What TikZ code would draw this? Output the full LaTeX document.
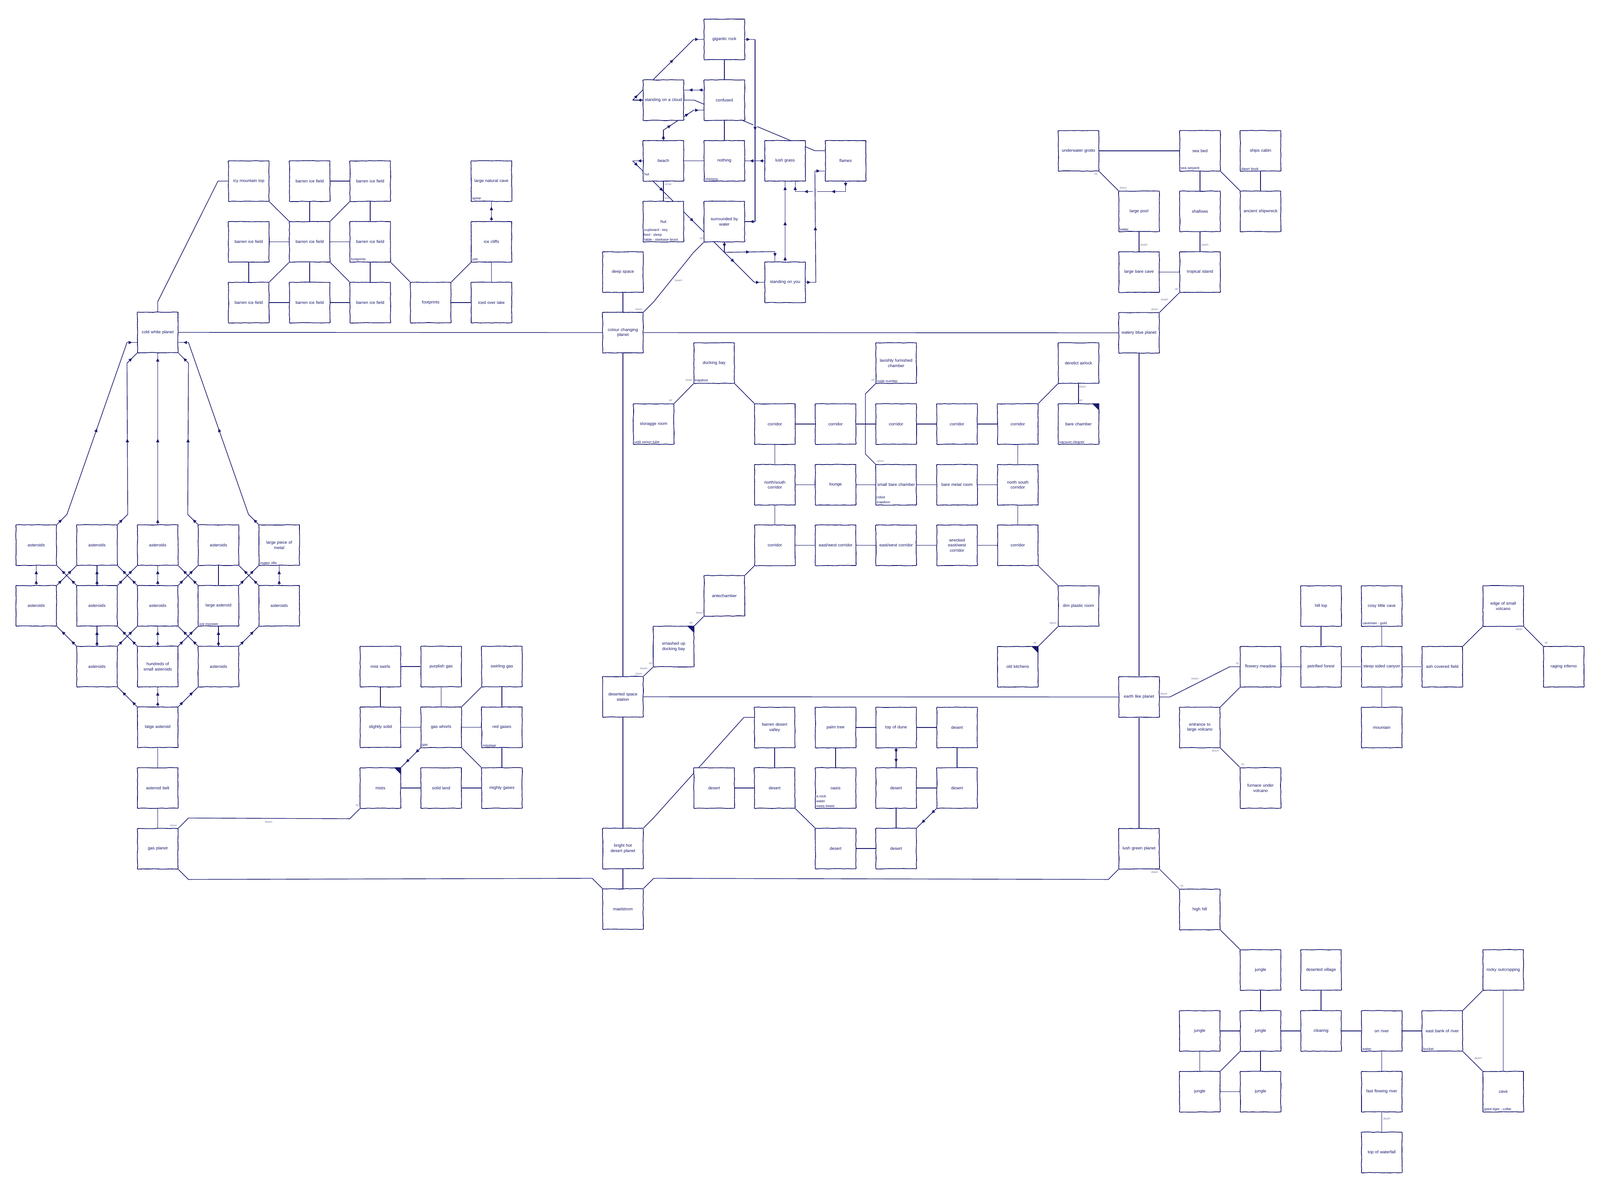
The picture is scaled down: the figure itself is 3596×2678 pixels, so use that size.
\documentclass[tikz,border=0pt]{standalone}
\usepackage{fontspec}
\setmainfont{Liberation Sans}
\usetikzlibrary{arrows.meta,decorations.markings,decorations.pathmorphing,calc}
\definecolor{nv}{RGB}{24,24,110}
\definecolor{lb}{RGB}{125,125,160}
\pgfdeclarelayer{back}
\pgfdeclarelayer{bg}
\pgfsetlayers{back,bg,main}
\tikzset{
  atip/.tip={Triangle[length=8pt,width=7pt]},
  room/.style={draw=nv, line width=1.6pt, fill=white, minimum width=91pt, minimum height=91pt,
    inner sep=1pt, text width=88pt, align=center, text=nv, font=\fontsize{9.5}{11.5}\selectfont,
    decorate, decoration={random steps,segment length=9pt,amplitude=0.55pt}, rounded corners=1.2pt},
  obj/.style={anchor=south west, inner sep=0pt, text=nv, font=\fontsize{8}{11}\selectfont, align=left},
  elab/.style={inner sep=0pt, text=lb, font=\fontsize{6.5}{7}\selectfont},
  conn/.style={draw=nv, line width=1.4pt},
  ar/.style={conn, postaction={decorate, decoration={markings, mark=at position 0.5 with {\arrow{atip}}}}},
  ar2/.style={conn, postaction={decorate, decoration={markings, mark=at position 0.25 with {\arrow{atip}}, mark=at position 0.75 with {\arrow{atip}}}}},
  arm/.style={conn, postaction={decorate, decoration={markings, #1}}},
  halo/.style={preaction={draw=white, line width=9pt}},
}
\newcommand{\objtxt}[3]{\node[obj] (#1) at ([xshift=3pt,yshift=2.5pt]#2.south west) {#3};}
\newcommand{\darkc}[1]{\fill[nv] (#1.north east) -- ++(-16,0) -- ++(16,16) -- cycle;}
\newcommand{\elbl}[4]{\node[elab] (#1) at (#2,#3) {#4};}
\newcommand{\owthree}[4]{\draw[ar] #1 -- #2; \draw[ar] #2 -- #3; \draw[ar] #3 -- #4;}
\begin{document}
\begin{tikzpicture}[x=1pt,y=-1pt]
\begin{pgfonlayer}{back}
\fill[white] (0,0) rectangle (3596,2678);
\end{pgfonlayer}
\useasboundingbox (0,0) rectangle (3596,2678);

% ---------------- ice
\node[room] (icy) at (559,407) {icy mountain top};
\node[room] (bi2) at (696,407) {barren ice field};
\node[room] (bi3) at (832,407) {barren ice field};
\node[room] (ncave) at (1104.5,407) {large natural cave};
\node[room] (bil) at (559,543.5) {barren ice field};
\node[room] (bic) at (696,543.5) {barren ice field};
\node[room] (bir) at (832,543.5) {barren ice field};
\node[room] (cliffs) at (1104.5,543.5) {ice cliffs};
\node[room] (bbl) at (559,680) {barren ice field};
\node[room] (bbm) at (696,680) {barren ice field};
\node[room] (bbr) at (832,680) {barren ice field};
\node[room] (fpr) at (968,680) {footprints};
\node[room] (lake) at (1104.5,680) {iced over lake};
\objtxt{o1}{ncave}{spear}
\objtxt{o2}{bir}{footprints}
\objtxt{o3}{cliffs}{yeti}

% ---------------- asteroids
\node[room] (cwp) at (354.5,747) {cold white planet};
\node[room] (a10) at (81.5,1225) {asteroids};
\node[room] (a11) at (218,1225) {asteroids};
\node[room] (a12) at (354.5,1225) {asteroids};
\node[room] (a13) at (491,1225) {asteroids};
\node[room] (m14) at (627.5,1225) {large piece of\\metal};
\node[room] (a20) at (81.5,1361.5) {asteroids};
\node[room] (a21) at (218,1361.5) {asteroids};
\node[room] (a22) at (354.5,1361.5) {asteroids};
\node[room] (la23) at (491,1361.5) {large asteroid};
\node[room] (a24) at (627.5,1361.5) {asteroids};
\node[room] (a31) at (218,1498) {asteroids};
\node[room] (h32) at (354.5,1498) {hundreds of\\small asteroids};
\node[room] (a33) at (491,1498) {asteroids};
\node[room] (lat) at (354.5,1634.5) {latge asteroid};
\node[room] (belt) at (354.5,1771) {asteroid belt};
\node[room] (gasp) at (354.5,1907.5) {gas planet};
\objtxt{o4}{m14}{matter rifle}
\objtxt{o5}{la23}{ore monster}

% ---------------- gas
\node[room] (ms) at (855,1498) {mist swirls};
\node[room] (pg) at (991.5,1498) {purplish gas};
\node[room] (sg) at (1128,1498) {swirling gas};
\node[room] (ss) at (855,1634.5) {slightly solid};
\node[room] (gw) at (991.5,1634.5) {gas whorls};
\node[room] (rg) at (1128,1634.5) {red gases};
\node[room] (mists) at (855,1771) {mists};
\node[room] (sl) at (991.5,1771) {solid land};
\node[room] (mg) at (1128,1771) {mighty gases};
\objtxt{o6}{gw}{gas}
\objtxt{o7}{rg}{misstaar}
\darkc{mists}

% ---------------- cloud area
\node[room] (gr) at (1628,88.5) {gigantic rock};
\node[room] (conf) at (1628,225) {confused};
\node[room] (cloud) at (1491,225) {standing on a cloud};
\node[room] (beach) at (1491,361.5) {beach};
\node[room] (noth) at (1628,361.5) {nothing};
\node[room] (lush) at (1764.5,361.5) {lush grass};
\node[room] (flames) at (1900.5,361.5) {flames};
\node[room] (hut) at (1491,498) {hut};
\node[room] (water) at (1628,498) {surrounded by\\water};
\node[room] (you) at (1764.5,634.5) {standing on you};
\node[room] (deep) at (1400,611.5) {deep space};
\node[obj] (o8) at ([xshift=3pt,yshift=13pt]beach.south west) {hut};
\objtxt{o9}{noth}{chimera}
\objtxt{o10}{hut}{cupboard - key\\bed - sleep\\table - starbase broot}

% ---------------- planets
\node[room] (ccp) at (1400,747.5) {colour changing\\planet};
\node[room] (station) at (1400,1566) {deserted space\\station};
\node[room] (bright) at (1400,1907) {bright hot\\desert planet};
\node[room] (mael) at (1400,2043) {maelstrom};
\node[room] (wbp) at (2560,748) {watery blue planet};
\node[room] (earth) at (2560,1566.5) {earth like planet};
\node[room] (lgp) at (2560,1907.5) {lush green planet};

% ---------------- space ship
\node[room] (dock) at (1605,816) {docking bay};
\node[room] (stor) at (1469,953) {storagge room};
\node[room] (lav) at (2014,816) {lavishly furnished\\chamber};
\node[room] (der) at (2424,816) {derelict airlock};
\node[room] (c1a) at (1741.5,953) {corridor};
\node[room] (c1b) at (1878,953) {corridor};
\node[room] (c1c) at (2014,953) {corridor};
\node[room] (c1d) at (2151,953) {corridor};
\node[room] (c1e) at (2287.5,953) {corridor};
\node[room] (bch) at (2424,953) {bare chamber};
\node[room] (ns1) at (1741.5,1089.5) {north/south\\corridor};
\node[room] (lng) at (1878,1089.5) {lounge};
\node[room] (sbc) at (2014,1089.5) {small bare chamber};
\node[room] (bmr) at (2151,1089.5) {bare metal room};
\node[room] (ns2) at (2287.5,1089.5) {north south\\corridor};
\node[room] (c3a) at (1741.5,1225.5) {corridor};
\node[room] (ew1) at (1878,1225.5) {east/west corridor};
\node[room] (ew2) at (2014,1225.5) {east/west corridor};
\node[room] (wew) at (2151,1225.5) {wrecked\\east/west\\corridor};
\node[room] (c3e) at (2287.5,1225.5) {corridor};
\node[room] (ante) at (1628,1339) {antechamber};
\node[room] (smash) at (1514,1453) {smashed up\\docking bay};
\node[room] (dim) at (2424,1362) {dim plastic room};
\node[room] (kit) at (2287.5,1498.5) {old kitchens};
\objtxt{o11}{dock}{trapdoor}
\objtxt{o12}{stor}{unlit xenon tube}
\objtxt{o13}{lav}{code number}
\objtxt{o14}{sbc}{robot\\trapdoor}
\objtxt{o15}{bch}{vacuum cleaner}
\darkc{bch}
\darkc{smash}
\darkc{kit}

% ---------------- desert
\node[room] (valley) at (1741,1635) {barren desert\\valley};
\node[room] (palm) at (1878,1635) {palm tree};
\node[room] (dune) at (2014,1635) {top of dune};
\node[room] (dtr) at (2151,1635) {desert};
\node[room] (d1) at (1605,1771) {desert};
\node[room] (d2) at (1741,1771) {desert};
\node[room] (oasis) at (1878,1771) {oasis};
\node[room] (d4) at (2014,1771) {desert};
\node[room] (d5) at (2151,1771) {desert};
\node[room] (d6) at (1878,1907) {desert};
\node[room] (d7) at (2014,1907) {desert};
\objtxt{o16}{oasis}{a rock\\water\\oasis beast}

% ---------------- water world
\node[room] (grotto) at (2424,339) {underwater grotto};
\node[room] (seabed) at (2697,339) {sea bed};
\node[room] (cabin) at (2833,339) {ships cabin};
\node[room] (pool) at (2560,475) {large pool};
\node[room] (shallows) at (2697,475) {shallows};
\node[room] (wreck) at (2833,475) {ancient shipwreck};
\node[room] (barecave) at (2560,611.5) {large bare cave};
\node[room] (tropic) at (2697,611.5) {tropical island};
\objtxt{o17}{seabed}{sea serpent}
\objtxt{o18}{cabin}{dawn book}
\objtxt{o19}{pool}{water}

% ---------------- earth
\node[room] (meadow) at (2833,1498.5) {flowery meadow};
\node[room] (forest) at (2969,1498.5) {petrified forest};
\node[room] (canyon) at (3105.5,1498.5) {steep sided canyon};
\node[room] (ash) at (3241.5,1498.5) {ash covered field};
\node[room] (inferno) at (3514.5,1498.5) {raging inferno};
\node[room] (volc) at (3378.5,1362) {edge of small\\volcano};
\node[room] (hill) at (2969,1362) {hill top};
\node[room] (cosy) at (3105.5,1362) {cosy little cave};
\node[room] (mount) at (3105.5,1635) {mountain};
\node[room] (entr) at (2696.5,1635) {entrance to\\large volcano};
\node[room] (furn) at (2833,1771) {furnace under\\volcano};
\objtxt{o20}{cosy}{caveman - gold}

% ---------------- jungle
\node[room] (hhill) at (2696.5,2044) {high hill};
\node[room] (jt) at (2833,2180) {jungle};
\node[room] (village) at (2969,2180) {deserted village};
\node[room] (rocky) at (3378.5,2180) {rocky outcropping};
\node[room] (jl) at (2696.5,2317) {jungle};
\node[room] (jc) at (2833,2317) {jungle};
\node[room] (clear) at (2969,2317) {clearing};
\node[room] (river) at (3105.5,2317) {on river};
\node[room] (bank) at (3241.5,2317) {east bank of river};
\node[room] (jbl) at (2696.5,2453.5) {jungle};
\node[room] (jbc) at (2833,2453.5) {jungle};
\node[room] (fast) at (3105.5,2453.5) {fast flowing river};
\node[room] (jcave) at (3378.5,2453.5) {cave};
\node[room] (fall) at (3105.5,2590) {top of waterfall};
\objtxt{o21}{river}{water}
\objtxt{o22}{bank}{bucket}
\objtxt{o23}{jcave}{giant tiger - collar}

% ---------------- edge labels
\elbl{l1}{390}{1855}{down}
\elbl{l2}{604}{1847}{beam}
\elbl{l3}{803}{1810}{up}
\elbl{l4}{1436}{695}{down}
\elbl{l5}{1525}{630}{beam}
\elbl{l6}{1576}{536.5}{up}
\elbl{l7}{1436}{1514}{down}
\elbl{l8}{1447}{1502.5}{beam}
\elbl{l9}{1462}{1491}{up}
\elbl{l10}{1553}{1400.5}{up}
\elbl{l11}{1572}{1377.5}{down}
\elbl{l12}{1549}{854}{down}
\elbl{l13}{1507}{900}{up}
\elbl{l14}{1962}{854}{up}
\elbl{l15}{1979}{1036}{down}
\elbl{l16}{2433}{869}{down}
\elbl{l17}{2429}{900.5}{up}
\elbl{l18}{2367}{1400}{down}
\elbl{l19}{2326}{1445.4}{up}
\elbl{l20}{2595}{695}{down}
\elbl{l21}{2617.5}{672.7}{beam}
\elbl{l22}{2644}{650}{up}
\elbl{l23}{2463}{391.7}{up}
\elbl{l24}{2524.5}{422}{down}
\elbl{l25}{2571}{550.6}{death}
\elbl{l26}{2708}{550.6}{death}
\elbl{l27}{2615.6}{1558.8}{down}
\elbl{l28}{2686}{1525.3}{beam}
\elbl{l29}{2781}{1491.7}{up}
\elbl{l30}{3414}{1414.6}{down}
\elbl{l31}{3475}{1445.6}{up}
\elbl{l32}{2731.6}{1687.3}{down}
\elbl{l33}{2793}{1718.4}{up}
\elbl{l34}{2595}{1960.4}{down}
\elbl{l35}{2656}{1991.5}{up}
\elbl{l36}{3321.7}{2377.8}{death}
\elbl{l37}{3116.7}{2514}{death}
\elbl{l38}{1502}{414.3}{enter}
\elbl{l39}{1501.5}{445.3}{leave}

% ================= connectors
\begin{pgfonlayer}{bg}
% --- cloud area, drawn first (crossed lines)
\draw[conn] (cloud.east) -- ++(22.75,0) -- ($(flames.west)+(-22.75,-22.75)$) -- ([yshift=22.75pt]flames.west);
\draw[ar] (flames.south) -- ($(flames.south)+(0,22.75)$);
\draw[arm={mark=at position 0.28 with {\arrow{atip}}, mark=at position 0.82 with {\arrow{atip}}}] ($(flames.south)+(0,22.75)$) -- ($(lush.south)+(22.75,22.75)$);
\draw[ar] ($(lush.south)+(22.75,22.75)$) -- ([xshift=22.75pt]lush.south);
% gigantic rock -> surrounded by water
\draw[ar,halo] ($(gr.east)+(22.75,0)$) -- ($(water.east)+(22.75,0)$);
\draw[ar] (gr.east) -- ($(gr.east)+(22.75,0)$);
\draw[ar] ($(water.east)+(22.75,0)$) -- (water.east);
% standing on you -> flames
\draw[ar,halo] ($(you.east)+(22.75,0)$) -- ($(flames.west)+(-22.75,22.75)$);
\draw[ar] (you.east) -- ($(you.east)+(22.75,0)$);
\draw[ar] ($(flames.west)+(-22.75,22.75)$) -- ([yshift=-22.75pt]flames.west);
% lush grass -> nothing
\draw[ar2] (lush.west) -- (noth.east);
% standing on you -> lush grass
\owthree{(you.north)}{($(you.north)+(0,-22.75)$)}{($(lush.south)+(0,22.75)$)}{(lush.south)}
% surrounded by water -> standing on you
\owthree{(water.south)}{($(water.south)+(0,22.75)$)}{($(you.north)+(-22.75,-22.75)$)}{([xshift=-22.75pt]you.north)}
% cloud -> gigantic rock
\draw[ar] (cloud.west) -- ($(cloud.west)+(-22.75,0)$);
\draw[arm={mark=at position 0.083 with {\arrow{atip}}, mark=at position 0.667 with {\arrow{atip}}}] ($(cloud.west)+(-22.75,0)$) -- ($(gr.west)+(-22.75,0)$);
\draw[ar] ($(gr.west)+(-22.75,0)$) -- (gr.west);
% beach -> standing on you
\draw[ar] (beach.west) -- ($(beach.west)+(-22.75,0)$);
\draw[arm={mark=at position 0.042 with {\arrow{atip}}, mark=at position 0.249 with {\arrow{atip}}, mark=at position 0.4995 with {\arrow{atip}}, mark=at position 0.834 with {\arrow{atip}}}] ($(beach.west)+(-22.75,0)$) -- ($(you.west)+(-22.75,0)$);
\draw[ar] ($(you.west)+(-22.75,0)$) -- (you.west);
% beach -> confused
\draw[ar] (beach.north) -- ($(beach.north)+(0,-22.75)$);
\draw[arm={mark=at position 0.25 with {\arrow{atip}}, mark=at position 0.831 with {\arrow{atip}}}] ($(beach.north)+(0,-22.75)$) -- ($(conf.west)+(-22.75,22.75)$);
\draw[ar] ($(conf.west)+(-22.75,22.75)$) -- ([yshift=-22.75pt]conf.west);
% confused -> cloud
\draw[ar2] ([yshift=22.75pt]conf.west) -- ([yshift=22.75pt]cloud.east);
% plain
\draw[conn] (gr.south) -- (conf.north);
\draw[conn] (conf.south) -- (noth.north);
\draw[conn] (beach.east) -- (noth.west);
\draw[conn] (beach.south) -- (hut.north);
\draw[conn] (deep.south) -- (ccp.north);
\draw[conn] (ccp.north east) -- ++(22.75,-22.75) -- ($(water.south west)+(-22.75,22.75)$) -- (water.south west);

% --- ice
\draw[conn] (cwp.north) -- ++(0,-22.75) -- ($(icy.west)+(-22.75,0)$) -- (icy.west);
\draw[conn] (icy.south east) -- (bic.north west);
\draw[conn] (bi2.south) -- (bic.north);
\draw[conn] (bi3.south west) -- (bic.north east);
\draw[conn] (bi2.east) -- (bi3.west);
\draw[conn] (bi3.south) -- (bir.north);
\draw[conn] (bil.east) -- (bic.west);
\draw[conn] (bic.east) -- (bir.west);
\draw[conn] (bil.south) -- (bbl.north);
\draw[conn] (bic.south west) -- (bbl.north east);
\draw[conn] (bic.south) -- (bbm.north);
\draw[conn] (bic.south east) -- (bbr.north west);
\draw[conn] (bir.south) -- (bbr.north);
\draw[conn] (bbl.east) -- (bbm.west);
\draw[conn] (bbm.east) -- (bbr.west);
\draw[conn] (bir.south east) -- (fpr.north west);
\draw[conn] (fpr.north east) -- (cliffs.south west);
\draw[conn] (fpr.east) -- (lake.west);
\draw[conn] (lake.north) -- (cliffs.south);
\draw[ar2] (cliffs.north) -- (ncave.south);

% --- asteroids
\owthree{(a10.north east)}{($(a10.north east)+(22.75,-22.75)$)}{($(cwp.west)+(-22.75,22.75)$)}{([yshift=-22.75pt]cwp.west)}
\owthree{(a11.north east)}{($(a11.north east)+(22.75,-22.75)$)}{($(cwp.south west)+(-22.75,22.75)$)}{(cwp.south west)}
\owthree{(a12.north)}{($(a12.north)+(0,-22.75)$)}{($(cwp.south)+(0,22.75)$)}{(cwp.south)}
\owthree{(a13.north west)}{($(a13.north west)+(-22.75,-22.75)$)}{($(cwp.south east)+(22.75,22.75)$)}{(cwp.south east)}
\owthree{(m14.north west)}{($(m14.north west)+(-22.75,-22.75)$)}{($(cwp.east)+(22.75,22.75)$)}{([yshift=-22.75pt]cwp.east)}
\draw[ar2] (a20.north) -- (a10.south);
\draw[ar2] (a20.north east) -- (a11.south west);
\draw[ar2] (a21.north west) -- (a10.south east);
\draw[ar2] (a21.north) -- (a11.south);
\draw[ar2] (a21.north east) -- (a12.south west);
\draw[ar2] (a22.north west) -- (a11.south east);
\draw[ar2] (a22.north) -- (a12.south);
\draw[ar2] (a22.north east) -- (a13.south west);
\draw[ar2] (la23.north west) -- (a12.south east);
\draw[conn] (la23.north) -- (a13.south);
\draw[ar2] (la23.north east) -- (m14.south west);
\draw[ar2] (a24.north west) -- (a13.south east);
\draw[ar2] (a24.north) -- (m14.south);
\draw[ar2] (a31.north west) -- (a20.south east);
\draw[ar2] (a31.north) -- (a21.south);
\draw[ar2] (a31.north east) -- (a22.south west);
\draw[ar2] (h32.north west) -- (a21.south east);
\draw[ar2] (h32.north) -- (a22.south);
\draw[ar2] (h32.north east) -- (la23.south west);
\draw[ar2] (a33.north west) -- (a22.south east);
\draw[ar2] (a33.north) -- (la23.south);
\draw[ar2] (a33.north east) -- (a24.south west);
\draw[ar2] (lat.north west) -- (a31.south east);
\draw[ar2] (lat.north) -- (h32.south);
\draw[ar2] (lat.north east) -- (a33.south west);
\draw[conn] (lat.south) -- (belt.north);
\draw[conn] (belt.south) -- (gasp.north);

% --- gas
\draw[conn] (gasp.north east) -- ++(22.75,-22.75) -- ($(mists.south west)+(-22.75,22.75)$) -- (mists.south west);
\draw[conn] (gasp.south east) -- ++(22.75,22.75) -- ($(mael.north west)+(-22.75,-22.75)$) -- (mael.north west);
\draw[conn] (ms.east) -- (pg.west);
\draw[conn] (ms.south) -- (ss.north);
\draw[conn] (pg.south) -- (gw.north);
\draw[conn] (sg.south west) -- (gw.north east);
\draw[conn] (sg.south) -- (rg.north);
\draw[conn] (ss.east) -- (gw.west);
\draw[conn] (gw.east) -- (rg.west);
\draw[ar2] (gw.south west) -- (mists.north east);
\draw[conn] (gw.south east) -- (mg.north west);
\draw[conn] (rg.south) -- (mg.north);
\draw[conn] (mists.east) -- (sl.west);
\draw[conn] (sl.east) -- (mg.west);

% --- planets trunk
\draw[conn] (cwp.east) -- (ccp.west);
\draw[conn] (ccp.east) -- (wbp.west);
\draw[conn] (ccp.south) -- (station.north);
\draw[conn] (station.east) -- (earth.west);
\draw[conn] (station.south) -- (bright.north);
\draw[conn] (bright.south) -- (mael.north);
\draw[conn] (wbp.south) -- (earth.north);
\draw[conn] (earth.south) -- (lgp.north);
\draw[conn] (mael.north east) -- ++(22.75,-22.75) -- ($(lgp.south west)+(-22.75,22.75)$) -- (lgp.south west);

% --- ship
\draw[conn] (station.north east) -- (smash.south west);
\draw[conn] (smash.north east) -- (ante.south west);
\draw[conn] (ante.north east) -- (c3a.south west);
\draw[conn] (c3a.north) -- (ns1.south);
\draw[conn] (ns1.north) -- (c1a.south);
\draw[conn] (c1a.north west) -- (dock.south east);
\draw[conn] (dock.south west) -- (stor.north east);
\draw[conn] (c1a.east) -- (c1b.west);
\draw[conn] (c1b.east) -- (c1c.west);
\draw[conn] (c1c.east) -- (c1d.west);
\draw[conn] (c1d.east) -- (c1e.west);
\draw[conn] (c1e.north east) -- (der.south west);
\draw[conn] (der.south) -- (bch.north);
\draw[conn] (lav.south west) -- ++(-22.75,22.75) -- ($(sbc.north west)+(-22.75,-22.75)$) -- (sbc.north west);
\draw[conn] (ns1.east) -- (lng.west);
\draw[conn] (lng.east) -- (sbc.west);
\draw[conn] (sbc.east) -- (bmr.west);
\draw[conn] (bmr.east) -- (ns2.west);
\draw[conn] (c1e.south) -- (ns2.north);
\draw[conn] (ns2.south) -- (c3e.north);
\draw[conn] (c3a.east) -- (ew1.west);
\draw[conn] (ew1.east) -- (ew2.west);
\draw[conn] (ew2.east) -- (wew.west);
\draw[conn] (wew.east) -- (c3e.west);
\draw[conn] (c3e.south east) -- (dim.north west);
\draw[conn] (dim.south west) -- (kit.north east);

% --- desert
\draw[conn] (bright.north east) -- ++(22.75,-22.75) -- ($(valley.west)+(-22.75,-22.75)$) -- ([yshift=22.75pt]valley.west);
\draw[conn] (valley.south) -- (d2.north);
\draw[conn] (d1.east) -- (d2.west);
\draw[conn] (d2.south east) -- (d6.north west);
\draw[conn] (palm.south) -- (oasis.north);
\draw[conn] (palm.east) -- (dune.west);
\draw[conn] (dune.east) -- (dtr.west);
\draw[ar2] (dune.south) -- (d4.north);
\draw[conn] (dtr.south) -- (d5.north);
\draw[conn] (d4.east) -- (d5.west);
\draw[conn] (d4.south) -- (d7.north);
\draw[ar2] (d5.south west) -- (d7.north east);
\draw[conn] (d6.east) -- (d7.west);

% --- water world
\draw[conn] (wbp.north east) -- (tropic.south west);
\draw[conn] (grotto.east) -- (seabed.west);
\draw[conn] (grotto.south east) -- (pool.north west);
\draw[conn] (seabed.south) -- (shallows.north);
\draw[conn] (seabed.south east) -- (wreck.north west);
\draw[conn] (cabin.south) -- (wreck.north);
\draw[conn] (pool.south) -- (barecave.north);
\draw[conn] (shallows.south) -- (tropic.north);
\draw[conn] (barecave.east) -- (tropic.west);

% --- earth
\draw[conn] (earth.east) -- ++(22.75,0) -- ($(meadow.west)+(-22.75,0)$) -- (meadow.west);
\draw[conn] (meadow.east) -- (forest.west);
\draw[conn] (forest.east) -- (canyon.west);
\draw[conn] (canyon.east) -- (ash.west);
\draw[conn] (hill.south) -- (forest.north);
\draw[conn] (cosy.south) -- (canyon.north);
\draw[conn] (canyon.south) -- (mount.north);
\draw[conn] (ash.north east) -- (volc.south west);
\draw[conn] (volc.south east) -- (inferno.north west);
\draw[conn] (meadow.south west) -- (entr.north east);
\draw[conn] (entr.south east) -- (furn.north west);

% --- jungle
\draw[conn] (lgp.south east) -- (hhill.north west);
\draw[conn] (hhill.south east) -- (jt.north west);
\draw[conn] (jt.south) -- (jc.north);
\draw[conn] (jl.east) -- (jc.west);
\draw[conn] (jc.east) -- (clear.west);
\draw[conn] (village.south) -- (clear.north);
\draw[conn] (clear.east) -- (river.west);
\draw[conn] (river.east) -- (bank.west);
\draw[conn] (bank.north east) -- (rocky.south west);
\draw[conn] (rocky.south) -- (jcave.north);
\draw[conn] (bank.south east) -- (jcave.north west);
\draw[conn] (river.south) -- (fast.north);
\draw[conn] (fast.south) -- (fall.north);
\draw[conn] (jl.south) -- (jbl.north);
\draw[conn] (jc.south west) -- (jbl.north east);
\draw[conn] (jc.south) -- (jbc.north);
\draw[conn] (jbl.east) -- (jbc.west);
\end{pgfonlayer}
\end{tikzpicture}
\end{document}
